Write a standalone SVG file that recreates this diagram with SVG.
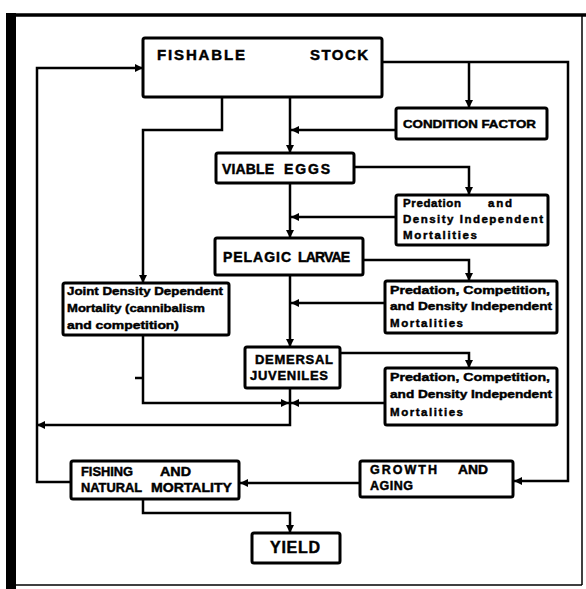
<svg xmlns="http://www.w3.org/2000/svg" width="586" height="589" viewBox="0 0 586 589">
  <style>
    .box { fill: #fff; stroke: #000; stroke-width: 3; }
    .wire { fill: none; stroke: #000; stroke-width: 2.5; }
    .lbl { font-family: "Liberation Sans", Arial, sans-serif; font-weight: bold; fill: #000; stroke: #000; stroke-width: 0.45; }
    .cap { font-size: 14px; }
    .sm { font-size: 11.5px; }
  </style>
  <defs>
    <marker id="arr" markerUnits="userSpaceOnUse" markerWidth="9" markerHeight="9" refX="8" refY="4.5" orient="auto">
      <path d="M0,0.5 L8,4.5 L0,8.5 z" fill="#000"/>
    </marker>
  </defs>
  <rect width="586" height="589" fill="#fff"/>

  <!-- page frame -->
  <g id="frame">
    <rect x="6" y="13" width="10" height="576" fill="#000"/>
    <path d="M8,15 H586" stroke="#000" stroke-width="3.5" fill="none"/>
    <path d="M582,15 V585" stroke="#000" stroke-width="1.5" fill="none"/>
    <path d="M16,585 H582" stroke="#000" stroke-width="1.5" fill="none"/>
  </g>

  <!-- connectors -->
  <g id="connectors">
    <path class="wire" d="M71,482 H37 V68 H143" marker-end="url(#arr)"/>
    <path class="wire" d="M382,62 H568 V481 H514" marker-end="url(#arr)"/>
    <path class="wire" d="M469,62 V108" marker-end="url(#arr)"/>
    <path class="wire" d="M290,97 V153" marker-end="url(#arr)"/>
    <path class="wire" d="M396,130 H291" marker-end="url(#arr)"/>
    <path class="wire" d="M222,97 V130 H143 V283" marker-end="url(#arr)"/>
    <path class="wire" d="M354,167 H469 V195" marker-end="url(#arr)"/>
    <path class="wire" d="M290,183 V238" marker-end="url(#arr)"/>
    <path class="wire" d="M396,217 H291" marker-end="url(#arr)"/>
    <path class="wire" d="M363,260 H469 V281" marker-end="url(#arr)"/>
    <path class="wire" d="M290,275 V347" marker-end="url(#arr)"/>
    <path class="wire" d="M385,303 H291" marker-end="url(#arr)"/>
    <path class="wire" d="M340,353 H469 V368" marker-end="url(#arr)"/>
    <path class="wire" d="M290,388 V425 H37" marker-end="url(#arr)"/>
    <path class="wire" d="M143,335 V403 H289" marker-end="url(#arr)"/>
    <path class="wire" d="M385,403 H291" marker-end="url(#arr)"/>
    <path class="wire" d="M360,483 H240" marker-end="url(#arr)"/>
    <path class="wire" d="M143,499 V513 H290 V533" marker-end="url(#arr)"/>
    <path class="wire" d="M135,378 H143"/>
  </g>

  <g id="fishable-stock">
    <rect class="box" x="143" y="38" width="239" height="59" rx="2"/>
    <text class="lbl" x="157" y="60" font-size="15" textLength="88" lengthAdjust="spacing">FISHABLE</text>
    <text class="lbl" x="310" y="60" font-size="15" textLength="58" lengthAdjust="spacing">STOCK</text>
  </g>

  <g id="condition-factor">
    <rect class="box" x="396" y="108" width="151" height="31" rx="2"/>
    <text class="lbl" x="403" y="128" font-size="11.5" textLength="133" lengthAdjust="spacingAndGlyphs">CONDITION FACTOR</text>
  </g>

  <g id="viable-eggs">
    <rect class="box" x="216" y="153" width="138" height="30" rx="2"/>
    <text class="lbl cap" x="222" y="174" textLength="52" lengthAdjust="spacing">VIABLE</text>
    <text class="lbl cap" x="284" y="174" textLength="46" lengthAdjust="spacing">EGGS</text>
  </g>

  <g id="mortality-eggs">
    <rect class="box" x="396" y="195" width="152" height="50" rx="2"/>
    <text class="lbl sm" x="403" y="207" textLength="58" lengthAdjust="spacing">Predation</text>
    <text class="lbl sm" x="488" y="207" textLength="24" lengthAdjust="spacing">and</text>
    <text class="lbl sm" x="403" y="223" textLength="140" lengthAdjust="spacing">Density Independent</text>
    <text class="lbl sm" x="403" y="239" textLength="74" lengthAdjust="spacing">Mortalities</text>
  </g>

  <g id="pelagic-larvae">
    <rect class="box" x="215" y="238" width="148" height="37" rx="2"/>
    <text class="lbl cap" x="223" y="262" textLength="68" lengthAdjust="spacing">PELAGIC</text>
    <text class="lbl cap" x="298" y="262" textLength="52" lengthAdjust="spacing">LARVAE</text>
  </g>

  <g id="joint-mortality">
    <rect class="box" x="63" y="283" width="166" height="52" rx="2"/>
    <text class="lbl sm" x="67" y="295" textLength="156" lengthAdjust="spacingAndGlyphs">Joint Density Dependent</text>
    <text class="lbl sm" x="67" y="312" textLength="138" lengthAdjust="spacingAndGlyphs">Mortality (cannibalism</text>
    <text class="lbl sm" x="67" y="329" textLength="112" lengthAdjust="spacingAndGlyphs">and competition)</text>
  </g>

  <g id="mortality-larvae">
    <rect class="box" x="385" y="281" width="172" height="52" rx="2"/>
    <text class="lbl sm" x="390" y="294" textLength="160" lengthAdjust="spacingAndGlyphs">Predation, Competition,</text>
    <text class="lbl sm" x="390" y="310" textLength="162" lengthAdjust="spacingAndGlyphs">and Density Independent</text>
    <text class="lbl sm" x="390" y="327" textLength="73" lengthAdjust="spacing">Mortalities</text>
  </g>

  <g id="demersal-juveniles">
    <rect class="box" x="245" y="347" width="95" height="41" rx="2"/>
    <text class="lbl" x="255" y="364" font-size="13" textLength="78" lengthAdjust="spacing">DEMERSAL</text>
    <text class="lbl" x="250" y="380" font-size="13" textLength="78" lengthAdjust="spacing">JUVENILES</text>
  </g>

  <g id="mortality-juveniles">
    <rect class="box" x="385" y="368" width="172" height="57" rx="2"/>
    <text class="lbl sm" x="390" y="381" textLength="160" lengthAdjust="spacingAndGlyphs">Predation, Competition,</text>
    <text class="lbl sm" x="390" y="398" textLength="162" lengthAdjust="spacingAndGlyphs">and Density Independent</text>
    <text class="lbl sm" x="390" y="416" textLength="73" lengthAdjust="spacing">Mortalities</text>
  </g>

  <g id="fishing-mortality">
    <rect class="box" x="71" y="461" width="168" height="38" rx="2"/>
    <text class="lbl" x="81" y="476" font-size="12.5" textLength="52" lengthAdjust="spacingAndGlyphs">FISHING</text>
    <text class="lbl" x="160" y="476" font-size="12.5" textLength="31" lengthAdjust="spacingAndGlyphs">AND</text>
    <text class="lbl" x="81" y="492" font-size="12.5" textLength="61" lengthAdjust="spacingAndGlyphs">NATURAL</text>
    <text class="lbl" x="151" y="492" font-size="12.5" textLength="81" lengthAdjust="spacingAndGlyphs">MORTALITY</text>
  </g>

  <g id="growth-aging">
    <rect class="box" x="360" y="461" width="153" height="36" rx="2"/>
    <text class="lbl" x="370" y="474" font-size="12.5" textLength="67" lengthAdjust="spacing">GROWTH</text>
    <text class="lbl" x="458" y="474" font-size="12.5" textLength="30" lengthAdjust="spacingAndGlyphs">AND</text>
    <text class="lbl" x="370" y="490" font-size="12.5" textLength="43" lengthAdjust="spacing">AGING</text>
  </g>

  <g id="yield">
    <rect class="box" x="252" y="533" width="88" height="30" rx="2"/>
    <text class="lbl" x="270" y="553" font-size="16" textLength="50" lengthAdjust="spacing">YIELD</text>
  </g>
</svg>
